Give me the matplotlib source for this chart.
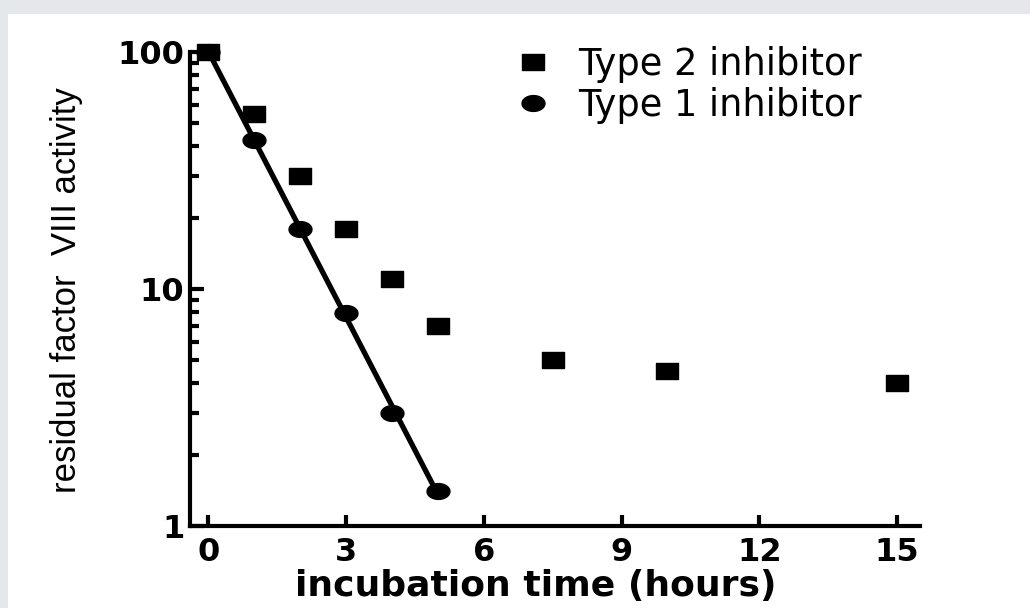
import matplotlib.pyplot as plt
import numpy as np
from matplotlib.path import Path
from matplotlib.patches import Rectangle
from matplotlib.ticker import NullFormatter, LogLocator

# data
hours_type2 = [0, 1, 2, 3, 4, 5, 7.5, 10, 15]
activity_type2 = [100, 55, 30, 18, 11, 7, 5, 4.5, 4.0]
hours_type1 = [0, 1, 2, 3, 4, 5]
activity_type1 = [100, 42.5, 18, 7.9, 3.0, 1.4]
x_ticks = [0, 3, 6, 9, 12, 15]
y_ticks = [1, 10, 100]
y_tick_labels = ["1", "10", "100"]

# wide markers (the source image is stretched sideways)
rect = Path([(-0.725, -0.5), (0.725, -0.5), (0.725, 0.5), (-0.725, 0.5), (-0.725, -0.5)],
            [Path.MOVETO, Path.LINETO, Path.LINETO, Path.LINETO, Path.CLOSEPOLY])
t = np.linspace(0, 2 * np.pi, 60)
ellipse = Path(np.column_stack([0.725 * np.cos(t), 0.5 * np.sin(t)]), closed=True)

W, H = 1030, 608
fig = plt.figure(figsize=(W / 100, H / 100), dpi=100)
fig.patch.set_facecolor("#e5e8eb")
fig.patches.append(Rectangle((8 / W, 0), 1, 1 - 14 / H, transform=fig.transFigure,
                             facecolor="white", edgecolor="none", zorder=-10))

ax = fig.add_axes([190 / W, 1 - 526 / H, (920 - 190) / W, (526 - 52) / H])
ax.set_facecolor("none")

# log-linear fit for type 1
fit = np.polyfit(hours_type1, np.log10(activity_type1), 1)
xs = np.array([hours_type1[0], hours_type1[-1]])
ax.plot(xs, 10 ** np.polyval(fit, xs), color="black", lw=3.8, solid_capstyle="butt",
        clip_on=False, zorder=2)

ax.plot(hours_type2, activity_type2, linestyle="none", marker=rect, markersize=16.5,
        color="black", clip_on=False, zorder=3, label="Type 2 inhibitor")
ax.plot(hours_type1, activity_type1, linestyle="none", marker=ellipse, markersize=16.5,
        color="black", clip_on=False, zorder=3, label="Type 1 inhibitor")

ax.set_yscale("log")
ax.set_ylim(1, 100)
ax.set_xlim(-0.4, 15.5)

for side in ["top", "right"]:
    ax.spines[side].set_visible(False)
for side in ["left", "bottom"]:
    ax.spines[side].set_linewidth(3)

ax.set_xticks(x_ticks)
ax.set_xticklabels([str(v) for v in x_ticks])
ax.set_yticks(y_ticks)
ax.set_yticklabels(y_tick_labels)
ax.yaxis.set_minor_locator(LogLocator(base=10, subs=np.arange(2, 10)))
ax.yaxis.set_minor_formatter(NullFormatter())

ax.tick_params(axis="x", which="major", direction="in", length=8, width=3, pad=8)
ax.tick_params(axis="y", which="major", direction="in", length=10, width=3, pad=4)
ax.tick_params(axis="y", which="minor", direction="in", length=6.5, width=3)
for lab in ax.get_xticklabels() + ax.get_yticklabels():
    lab.set_fontfamily("DejaVu Sans")
    lab.set_fontweight("bold")
    lab.set_fontsize(23)

ax.set_xlabel("incubation time (hours)", fontsize=26, fontweight="bold",
              family="DejaVu Sans")
ax.xaxis.set_label_coords((536 - 190) / (920 - 190), -(586 - 526) / (526 - 52))
ax.xaxis.label.set_va("center")
ax.set_ylabel("residual factor  VIII activity", fontsize=25, family="Liberation Sans")
ax.yaxis.set_label_coords(-(190 - 67) / (920 - 190), (526 - 290) / (526 - 52))
ax.yaxis.label.set_va("center")

leg = ax.legend(loc="upper left", bbox_to_anchor=(515 / W, 1 - 46 / H),
                bbox_transform=fig.transFigure, frameon=False, borderpad=0,
                borderaxespad=0, handlelength=1.0, handletextpad=0.72,
                labelspacing=0.1, prop={"family": "DejaVu Sans", "size": 26.5})

fig.savefig("out.png", dpi=100, facecolor=fig.get_facecolor())
